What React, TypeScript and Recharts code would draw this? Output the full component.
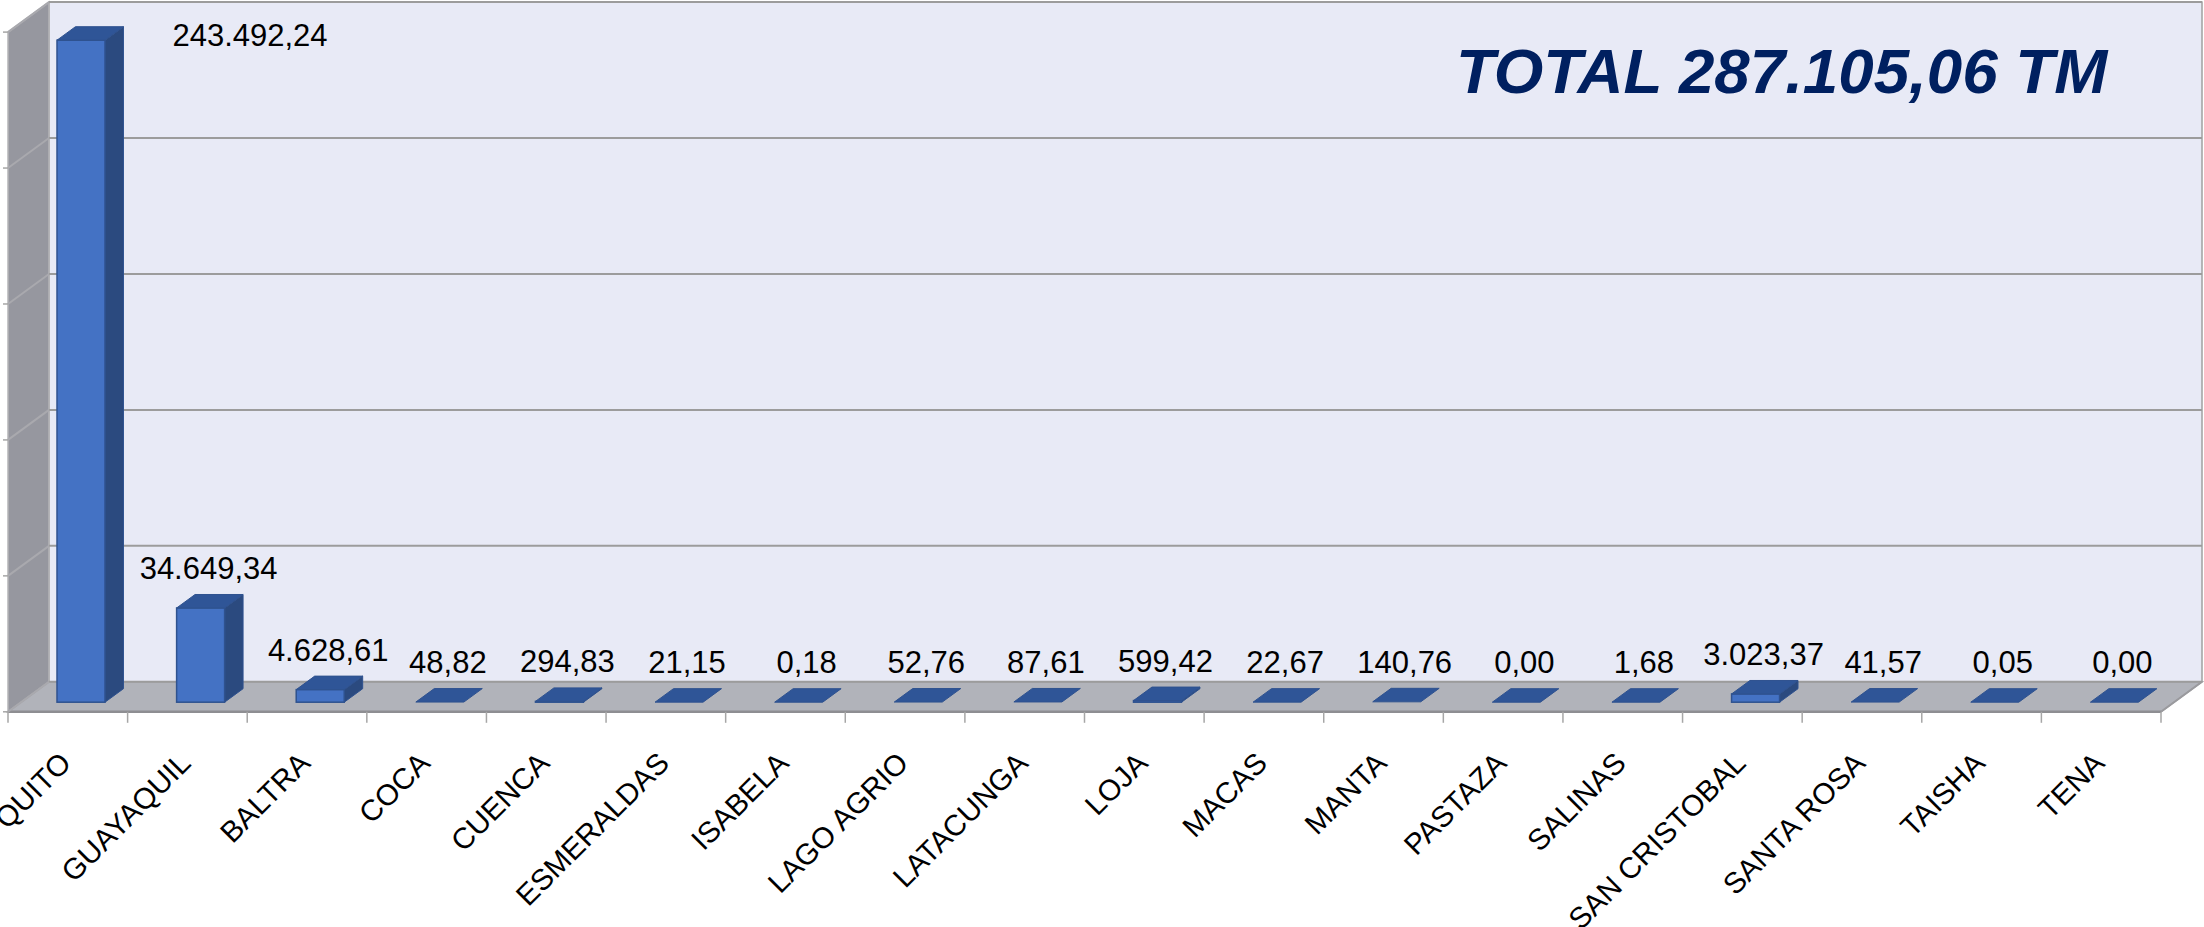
import React from "react";
import { BarChart, Bar, XAxis, YAxis, CartesianGrid, LabelList } from "recharts";

// ---------- data ----------
const categories = [
  "QUITO", "GUAYAQUIL", "BALTRA", "COCA", "CUENCA", "ESMERALDAS", "ISABELA",
  "LAGO AGRIO", "LATACUNGA", "LOJA", "MACAS", "MANTA", "PASTAZA", "SALINAS",
  "SAN CRISTOBAL", "SANTA ROSA", "TAISHA", "TENA",
];
const tonnes = [
  243492.24, 34649.34, 4628.61, 48.82, 294.83, 21.15, 0.18, 52.76, 87.61,
  599.42, 22.67, 140.76, 0.0, 1.68, 3023.37, 41.57, 0.05, 0.0,
];
const yTicks = [0, 50000, 100000, 150000, 200000, 250000];
const titlePrefix = "TOTAL";
const titleUnit = "TM";

const data = categories.map((name, i) => ({ name, value: tonnes[i] }));
const total = tonnes.reduce((a, b) => a + b, 0);

// ---------- layout (3D oblique projection) ----------
const W = 2204;
const H = 927;
const FRONT_LEFT = 8;
const FRONT_RIGHT = 2161;
const FRONT_BOTTOM = 711.8;
const DEPTH_X = 41;
const DEPTH_Y = 30;
const WALL_H = 679.7;
const BAR_Z = 0.32; // bar front face depth (fraction from front)
const BAR_D = 0.45; // bar depth fraction
const PLOT_LEFT = FRONT_LEFT + BAR_Z * DEPTH_X;
const PLOT_RIGHT = FRONT_RIGHT + BAR_Z * DEPTH_X;
const PLOT_BOTTOM = FRONT_BOTTOM - BAR_Z * DEPTH_Y;
const PLOT_TOP = PLOT_BOTTOM - WALL_H;
const BACK_DY = (1 - BAR_Z) * DEPTH_Y;
const BACK_LEFT = FRONT_LEFT + DEPTH_X;
const BACK_RIGHT = FRONT_RIGHT + DEPTH_X;
const BACK_BOTTOM = FRONT_BOTTOM - DEPTH_Y;
const BACK_TOP = BACK_BOTTOM - WALL_H;
const XAXIS_H = 200;
const BAND = (PLOT_RIGHT - PLOT_LEFT) / categories.length;

const FONT = "'Liberation Sans', Arial, sans-serif";
const COL_FRONT = "#4472C4";
const COL_TOP = "#2F5597";
const COL_SIDE = "#2B4A7F";
const COL_EDGE = "#2F528F";

function fmtES(v: number): string {
  const [ip, dp] = v.toFixed(2).split(".");
  const grouped = ip.replace(/\B(?=(\d{3})+(?!\d))/g, ".");
  return `${grouped},${dp}`;
}

// ---------- shapes ----------
const Bar3D = (props: any) => {
  const { x, y, width, height } = props;
  if (x == null || y == null) return null;
  const w = width;
  const h = Math.max(0, height);
  const dx = BAR_D * DEPTH_X;
  const dy = -BAR_D * DEPTH_Y;
  const top = `${x},${y} ${x + dx},${y + dy} ${x + w + dx},${y + dy} ${x + w},${y}`;
  const side = `${x + w},${y} ${x + w + dx},${y + dy} ${x + w + dx},${y + h + dy} ${x + w},${y + h}`;
  return (
    <g>
      {h > 0.5 && (
        <polygon points={side} fill={COL_SIDE} stroke={COL_EDGE} strokeWidth={1} strokeLinejoin="round" />
      )}
      {h > 0.5 && (
        <rect x={x} y={y} width={w} height={h} fill={COL_FRONT} stroke={COL_EDGE} strokeWidth={1.5} />
      )}
      <polygon points={top} fill={COL_TOP} stroke={COL_EDGE} strokeWidth={1} strokeLinejoin="round" />
    </g>
  );
};

const ValueLabel = (props: any) => {
  const vb = props.viewBox || {};
  const x = props.x ?? vb.x;
  const y = props.y ?? vb.y;
  const width = props.width ?? vb.width;
  const value = props.value;
  if (x == null || y == null) return null;
  const text = fmtES(Number(value));
  let tx = x + width / 2 + 8;
  let ty = y - 29;
  let anchor: "middle" | "start" = "middle";
  if (ty - 24 < BACK_TOP) {
    // no room above: place beside the bar, as the original does
    tx = x + width + BAR_D * DEPTH_X + 49;
    ty = y + 6;
    anchor = "start";
  }
  return (
    <text x={tx} y={ty} textAnchor={anchor} fontFamily={FONT} fontSize={31} fill="#000">
      {text}
    </text>
  );
};

const XTick = (props: any) => {
  const { x, payload, index, visibleTicksCount } = props;
  const cx = x - BAR_Z * DEPTH_X; // front plane centre
  const ax = cx + 5;
  const ay = FRONT_BOTTOM + 53;
  const left = cx - BAND / 2;
  const right = cx + BAND / 2;
  return (
    <g>
      <line x1={left} y1={FRONT_BOTTOM} x2={left} y2={FRONT_BOTTOM + 11} stroke="#A6A6A6" strokeWidth={1.5} />
      {index === visibleTicksCount - 1 && (
        <line x1={right} y1={FRONT_BOTTOM} x2={right} y2={FRONT_BOTTOM + 11} stroke="#A6A6A6" strokeWidth={1.5} />
      )}
      <text
        x={ax}
        y={ay}
        textAnchor="end"
        transform={`rotate(-45, ${ax}, ${ay})`}
        fontFamily={FONT}
        fontSize={29.5}
        fill="#000"
      >
        {payload.value}
      </text>
    </g>
  );
};

const GridLine = (props: any) => {
  const { y1, index } = props;
  if (y1 == null) return <g />;
  const by = y1 - BACK_DY;
  const fy = by + DEPTH_Y;
  return (
    <g key={`gl-${index}`}>
      <line x1={BACK_LEFT} y1={by} x2={BACK_RIGHT} y2={by} stroke="#9C9C9C" strokeWidth={2} />
      <line x1={BACK_LEFT} y1={by} x2={FRONT_LEFT} y2={fy} stroke="#A9A9AE" strokeWidth={2} />
      <line x1={FRONT_LEFT - 5} y1={fy} x2={FRONT_LEFT} y2={fy} stroke="#A6A6A6" strokeWidth={1.5} />
    </g>
  );
};

// ---------- background walls ----------
const Walls = () => {
  const leftWall = `${FRONT_LEFT},${BACK_TOP + DEPTH_Y} ${BACK_LEFT},${BACK_TOP} ${BACK_LEFT},${BACK_BOTTOM} ${FRONT_LEFT},${FRONT_BOTTOM}`;
  const floor = `${BACK_LEFT},${BACK_BOTTOM} ${BACK_RIGHT},${BACK_BOTTOM} ${FRONT_RIGHT},${FRONT_BOTTOM} ${FRONT_LEFT},${FRONT_BOTTOM}`;
  return (
    <svg width={W} height={H} style={{ position: "absolute", left: 0, top: 0 }}>
      <rect x={0} y={0} width={W} height={H} fill="#FFFFFF" />
      <rect
        x={BACK_LEFT}
        y={BACK_TOP}
        width={BACK_RIGHT - BACK_LEFT}
        height={WALL_H}
        fill="#E8EAF6"
        stroke="#A0A0A0"
        strokeWidth={1.5}
      />
      <polygon points={leftWall} fill="#96979F" stroke="#B5B5B8" strokeWidth={1.5} />
      <polygon points={floor} fill="#B1B3BA" stroke="#A0A0A4" strokeWidth={1.5} />
      <line x1={FRONT_LEFT} y1={FRONT_BOTTOM} x2={FRONT_RIGHT} y2={FRONT_BOTTOM} stroke="#8E8E92" strokeWidth={2.5} />
      <line x1={FRONT_RIGHT} y1={FRONT_BOTTOM} x2={BACK_RIGHT} y2={BACK_BOTTOM} stroke="#9A9A9E" strokeWidth={2} />
      <text
        x={1456}
        y={93}
        fontFamily={FONT}
        fontSize={63.7}
        fontWeight="bold"
        fontStyle="italic"
        fill="#002060"
      >
        {`${titlePrefix} ${fmtES(total)} ${titleUnit}`}
      </text>
    </svg>
  );
};

export default function App() {
  return (
    <div style={{ position: "absolute", left: 0, top: 0, width: W, height: H, background: "#fff" }}>
      <Walls />
      <div style={{ position: "absolute", left: 0, top: 0 }}>
        <BarChart
          width={W}
          height={H}
          data={data}
          margin={{
            top: PLOT_TOP,
            left: PLOT_LEFT,
            right: W - PLOT_RIGHT,
            bottom: H - PLOT_BOTTOM - XAXIS_H,
          }}
          barCategoryGap="30%"
        >
          <CartesianGrid vertical={false} horizontal={GridLine as any} fill="none" />
          <XAxis
            dataKey="name"
            axisLine={false}
            tickLine={false}
            interval={0}
            height={XAXIS_H}
            tick={<XTick />}
          />
          <YAxis hide domain={[0, 250000]} ticks={yTicks} type="number" />
          <Bar dataKey="value" shape={Bar3D as any} isAnimationActive={false}>
            <LabelList dataKey="value" content={ValueLabel as any} />
          </Bar>
        </BarChart>
      </div>
    </div>
  );
}
